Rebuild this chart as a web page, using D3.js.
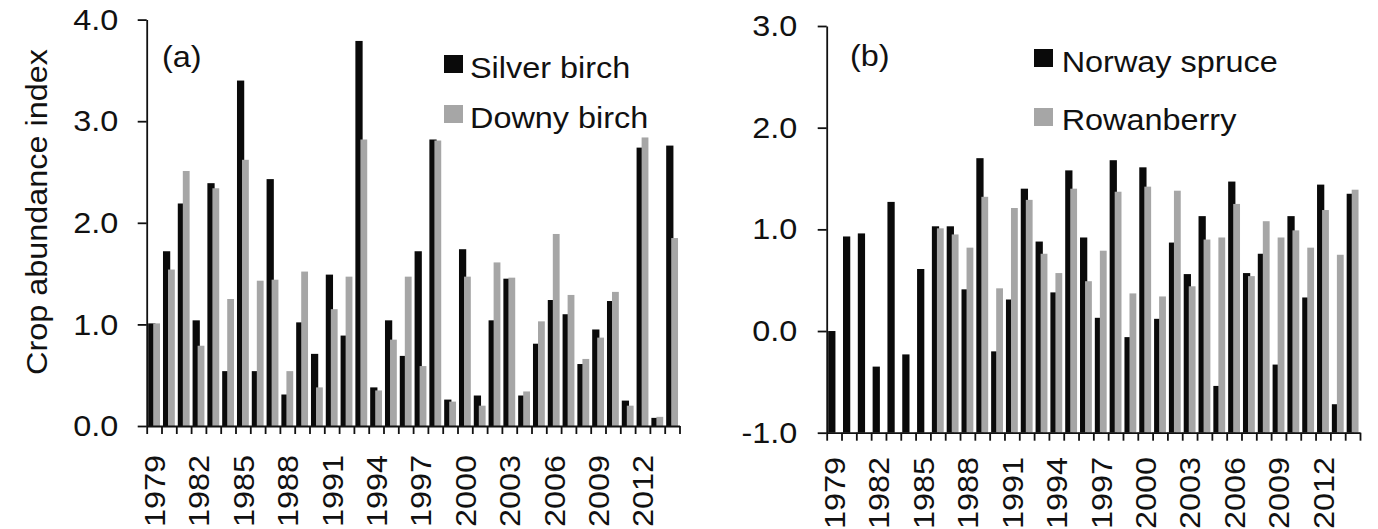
<!DOCTYPE html>
<html>
<head>
<meta charset="utf-8">
<script src="https://cdn.jsdelivr.net/npm/d3@7"></script>
<style>
  html, body { margin: 0; padding: 0; background: #fff; }
  svg { display: block; font-family: "Liberation Sans", Arial, sans-serif; }
  text { fill: #111; }
</style>
</head>
<body>
<svg id="chart" width="1378" height="529"></svg>
<script>
const years = [1979,1980,1981,1982,1983,1984,1985,1986,1987,1988,1989,1990,1991,1992,1993,1994,1995,1996,1997,1998,1999,2000,2001,2002,2003,2004,2005,2006,2007,2008,2009,2010,2011,2012,2013,2014];
const labelYears = [1979,1982,1985,1988,1991,1994,1997,2000,2003,2006,2009,2012];

const silverBirch = [1.01,1.72,2.19,1.04,2.39,0.54,3.40,0.54,2.43,0.31,1.02,0.71,1.49,0.89,3.79,0.38,1.04,0.69,1.72,2.82,0.26,1.74,0.30,1.04,1.45,0.30,0.81,1.24,1.10,0.61,0.95,1.23,0.25,2.74,0.08,2.76];
const downyBirch  = [1.01,1.54,2.51,0.79,2.34,1.25,2.62,1.43,1.44,0.54,1.52,0.38,1.15,1.47,2.82,0.35,0.85,1.47,0.59,2.81,0.24,1.47,0.20,1.61,1.46,0.34,1.03,1.89,1.29,0.66,0.87,1.32,0.20,2.84,0.09,1.85];
const norwaySpruce = [0.00,0.93,0.96,-0.35,1.27,-0.23,0.61,1.03,1.03,0.41,1.70,-0.20,0.31,1.40,0.88,0.38,1.58,0.92,0.13,1.68,-0.06,1.61,0.12,0.87,0.56,1.13,-0.54,1.47,0.57,0.76,-0.33,1.13,0.33,1.44,-0.72,1.35];
const rowanberry = [null,null,null,null,null,null,null,1.01,0.95,0.82,1.32,0.42,1.21,1.29,0.76,0.57,1.40,0.49,0.79,1.37,0.37,1.42,0.34,1.38,0.44,0.90,0.92,1.25,0.54,1.08,0.92,0.99,0.82,1.19,0.75,1.39];

const ticksA = [0,1,2,3,4];
const ticksB = [-1,0,1,2,3];

const BLACK = "#0a0a0a", GRAY = "#a6a6a6";
const FS = 30, SX = 1.08;
const fmt = v => d3.format(".1f")(v).replace("\u2212", "-");
const svg = d3.select("#chart");

function panel(opts) {
  const g = svg.append("g");
  const x = d3.scaleBand().domain(years).range(opts.xr).paddingInner(0).paddingOuter(0);
  const xi = d3.scaleLinear().domain([0, years.length]).range(opts.xr);
  const y = d3.scaleLinear().domain(opts.yd).range(opts.yr);
  const bw = x.bandwidth();
  const base = y(opts.yd[0]);

  g.append("g").selectAll("rect").data(years.map((yr,i)=>({yr, v: opts.s1[i]})).filter(d=>d.v!=null))
    .join("rect")
    .attr("x", d => x(d.yr) + 0.10*bw).attr("width", 0.49*bw)
    .attr("y", d => y(d.v)).attr("height", d => base - y(d.v))
    .attr("fill", BLACK);
  g.append("g").selectAll("rect").data(years.map((yr,i)=>({yr, v: opts.s2[i]})).filter(d=>d.v!=null))
    .join("rect")
    .attr("x", d => x(d.yr) + 0.44*bw).attr("width", 0.46*bw)
    .attr("y", d => y(d.v)).attr("height", d => base - y(d.v))
    .attr("fill", GRAY);

  const ya = g.append("g").attr("transform", `translate(${opts.xr[0]},0)`)
    .call(d3.axisLeft(y).tickValues(opts.yt).tickSize(9).tickSizeOuter(0).tickPadding(opts.ypad).tickFormat(fmt));
  ya.selectAll("text").attr("font-size", FS).attr("font-family", null).attr("fill", "#111")
    .each(function(){ const t = d3.select(this); const xx = +t.attr("x"); t.attr("x", xx/SX).attr("transform", `scale(${SX},1)`); });

  const xa = g.append("g").attr("transform", `translate(0,${base})`)
    .call(d3.axisBottom(xi).tickValues(d3.range(0, years.length+1)).tickSize(8).tickSizeOuter(0).tickFormat(""));

  [ya, xa].forEach(a => { a.selectAll("path,line").attr("stroke", "#111").attr("stroke-width", 1.8); });

  g.append("g").selectAll("text").data(labelYears).join("text")
    .attr("transform", d => `translate(${x(d) + bw/2},${opts.labTop}) rotate(-90) scale(${SX},1)`)
    .attr("text-anchor", "end").attr("dy", "0.36em").attr("font-size", FS)
    .text(d => d);

  g.append("text").attr("transform", `translate(${opts.tag[0]},${opts.tag[1]}) scale(${SX},1)`)
    .attr("font-size", FS).text(opts.tagText);

  opts.legend.forEach((L) => {
    g.append("rect").attr("x", L.sq[0]).attr("y", L.sq[1]).attr("width", 19).attr("height", 18).attr("fill", L.c);
    g.append("text").attr("transform", `translate(${L.t[0]},${L.t[1]}) scale(${SX},1)`)
      .attr("font-size", FS).text(L.name);
  });
}

panel({
  xr: [146.7, 679.5], yd: [0, 4], yr: [426, 19.6], yt: ticksA, ypad: 19.5,
  s1: silverBirch, s2: downyBirch, labTop: 455,
  tag: [162, 67], tagText: "(a)",
  legend: [
    {name: "Silver birch", c: BLACK, sq: [444, 55], t: [470, 78]},
    {name: "Downy birch", c: GRAY, sq: [444, 105], t: [470, 128]}
  ]
});

panel({
  xr: [826.7, 1360], yd: [-1, 3], yr: [432.7, 26], yt: ticksB, ypad: 20.5,
  s1: norwaySpruce, s2: rowanberry, labTop: 457,
  tag: [850, 66], tagText: "(b)",
  legend: [
    {name: "Norway spruce", c: BLACK, sq: [1034, 49], t: [1061.7, 72]},
    {name: "Rowanberry", c: GRAY, sq: [1034, 108], t: [1061.7, 130]}
  ]
});

svg.append("text")
  .attr("transform", `translate(36,212) rotate(-90) scale(${SX},1)`)
  .attr("text-anchor", "middle").attr("dy", "0.35em").attr("font-size", FS)
  .text("Crop abundance index");
</script>
</body>
</html>
